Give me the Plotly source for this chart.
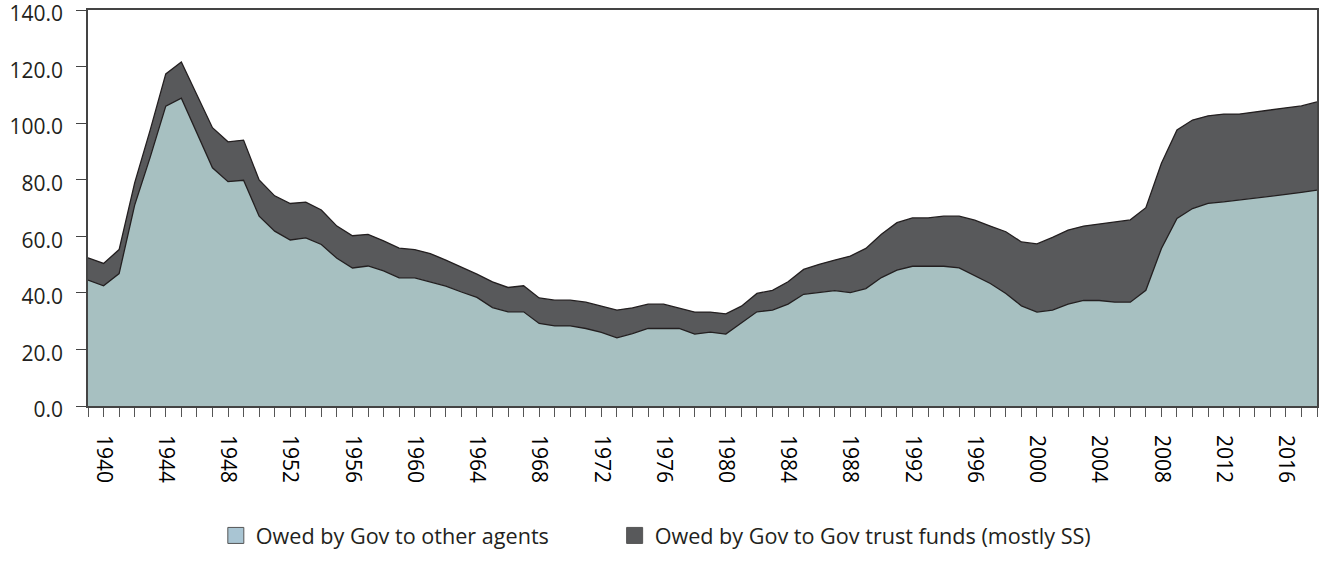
import plotly.graph_objects as go

years = list(range(1939, 2019))

owed_to_other_agents = [
    44.5, 42.5, 46.8, 71.0, 88.0, 106.0, 108.8, 96.4, 84.2, 79.3,
    79.8, 67.1, 61.8, 58.7, 59.4, 57.1, 52.2, 48.8, 49.5, 47.8,
    45.3, 45.3, 43.9, 42.4, 40.3, 38.4, 34.8, 33.3, 33.3, 29.2,
    28.3, 28.3, 27.4, 26.0, 24.1, 25.6, 27.4, 27.4, 27.4, 25.4,
    26.1, 25.4, 29.2, 33.3, 33.9, 36.0, 39.5, 40.2, 40.8, 40.1,
    41.5, 45.4, 48.0, 49.4, 49.4, 49.4, 48.8, 46.1, 43.3, 39.8,
    35.4, 33.2, 33.9, 36.0, 37.3, 37.3, 36.7, 36.7, 40.9, 55.7,
    66.3, 69.8, 71.6, 72.2, 72.8, 73.4, 74.1, 74.8, 75.5, 76.3,
]

owed_to_trust_funds = [
    7.9, 7.9, 8.5, 7.9, 9.6, 11.4, 12.8, 13.8, 14.2, 14.1,
    14.2, 12.8, 12.5, 12.9, 12.7, 12.2, 11.4, 11.4, 11.2, 10.6,
    10.5, 10.0, 10.0, 9.2, 8.9, 8.2, 9.1, 8.6, 9.2, 9.0,
    9.1, 9.1, 9.3, 9.3, 9.8, 9.1, 8.6, 8.6, 7.1, 7.8,
    7.1, 7.2, 6.1, 6.5, 7.0, 7.9, 8.8, 9.9, 10.8, 12.9,
    14.2, 15.3, 16.8, 17.1, 17.1, 17.7, 18.3, 19.6, 20.3, 21.8,
    22.6, 24.1, 25.7, 26.2, 26.3, 27.0, 28.4, 29.1, 29.2, 30.1,
    31.3, 31.3, 31.0, 31.0, 30.4, 30.6, 30.6, 30.6, 30.6, 31.2,
]

series_names = ["Owed by Gov to other agents", "Owed by Gov to Gov trust funds (mostly SS)"]
series_colors = ["#a7c0c1", "#58595b"]
legend_colors = ["#a9c5d3", "#58595b"]
tick_years = list(range(1940, 2017, 4))
y_ticks = [0, 20, 40, 60, 80, 100, 120, 140]

ink = "#231f20"
font_family = "Open Sans, Lato, sans-serif"

fig = go.Figure()
for name, vals, col in zip(series_names, [owed_to_other_agents, owed_to_trust_funds], series_colors):
    fig.add_trace(go.Scatter(
        x=years, y=vals, name=name, mode="lines",
        stackgroup="one", fillcolor=col,
        line=dict(color=ink, width=1.3),
        showlegend=False, hoverinfo="x+y+name",
    ))

for name, col, lg in zip(series_names, legend_colors, ["legend", "legend2"]):
    fig.add_trace(go.Scatter(
        x=[None], y=[None], name=name, mode="markers", legend=lg,
        marker=dict(symbol="square", size=17, color=col, line=dict(color="#555555", width=1)),
        showlegend=True,
    ))

legend_common = dict(
    orientation="h", y=-0.328, xanchor="left", yanchor="middle",
    font=dict(size=21.6, color=ink), bgcolor="rgba(0,0,0,0)",
)

fig.update_layout(
    width=1323, height=574,
    margin=dict(l=88, r=6, t=10, b=168, autoexpand=False),
    paper_bgcolor="white", plot_bgcolor="white",
    font=dict(family=font_family, size=21, color=ink),
    legend=dict(x=0.104, **legend_common),
    legend2=dict(x=0.4285, **legend_common),
    xaxis=dict(
        range=[1939, 2018], tickmode="array", tickvals=tick_years,
        ticktext=[str(y) for y in tick_years], tickangle=90,
        ticks="outside", ticklen=9, tickwidth=1, tickcolor="#555555",
        minor=dict(dtick=1, tick0=1939, ticks="outside", ticklen=9, tickwidth=1, tickcolor="#555555"),
        showline=True, linecolor="#444444", linewidth=1.5, mirror=True,
        showgrid=False, zeroline=False, ticklabelstandoff=14,
        ticklabeloverflow="allow",
        tickfont=dict(size=21, color="#000000"), automargin=False,
    ),
    yaxis=dict(
        range=[0, 140], tickmode="array", tickvals=y_ticks,
        ticktext=["%.1f" % v for v in y_ticks],
        ticks="outside", ticklen=10, tickwidth=1, tickcolor="#444444",
        showline=True, linecolor="#444444", linewidth=1.5, mirror=True,
        showgrid=False, zeroline=False, ticklabelstandoff=9, ticklabelshift=4,
        ticklabeloverflow="allow",
        tickfont=dict(size=21, color=ink), automargin=False,
    ),
)

fig.write_html(
    "out.html",
    config={"displayModeBar": False},
    post_script="document.body.style.margin='0';document.body.style.overflow='hidden';",
)
